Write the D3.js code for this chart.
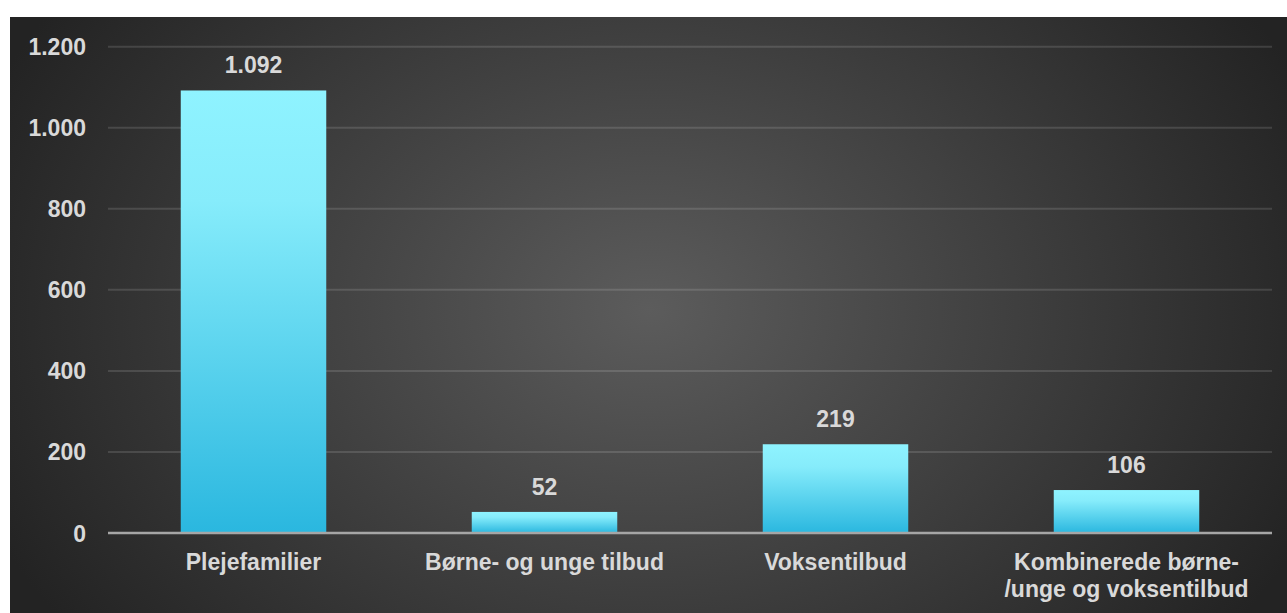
<!DOCTYPE html>
<html><head><meta charset="utf-8">
<script src="https://cdn.jsdelivr.net/npm/d3@7"></script>
<style>html,body{margin:0;padding:0;background:#fff;overflow:hidden}</style>
</head><body>
<svg id="c" width="1287" height="613"></svg>
<script>
const categories = [["Plejefamilier"], ["Børne- og unge tilbud"], ["Voksentilbud"], ["Kombinerede børne-", "/unge og voksentilbud"]];
const values = [1092, 52, 219, 106];
const valueLabels = ["1.092", "52", "219", "106"];
const yTicks = [0, 200, 400, 600, 800, 1000, 1200];
const yTickLabels = ["0", "200", "400", "600", "800", "1.000", "1.200"];

const svg = d3.select("#c");
const W = 1287, H = 613;
const font = "'Liberation Sans', Arial, sans-serif";
const defs = svg.append("defs");
const bg = defs.append("radialGradient").attr("id","bg").attr("gradientUnits","userSpaceOnUse")
  .attr("cx",650).attr("cy",310).attr("r",720)
  .attr("gradientTransform","translate(650,310) scale(1,0.75) translate(-650,-310)");
bg.append("stop").attr("offset","0").attr("stop-color","#5c5c5c");
bg.append("stop").attr("offset","1").attr("stop-color","#232323");
const bar = defs.append("linearGradient").attr("id","bar").attr("x1",0).attr("y1",0).attr("x2",0).attr("y2",1);
bar.append("stop").attr("offset","0").attr("stop-color","#8ff3ff");
bar.append("stop").attr("offset","0.25").attr("stop-color","#86ecfb");
bar.append("stop").attr("offset","1").attr("stop-color","#2ab7df");

svg.append("rect").attr("x",10).attr("y",17).attr("width",W-10).attr("height",H-17).attr("fill","url(#bg)");

const x = d3.scaleBand().domain(d3.range(values.length)).range([108,1272]).paddingInner(0.5).paddingOuter(0.25);
const y = d3.scaleLinear().domain([0,1200]).range([533,46.7]);

// gridlines
svg.append("g").selectAll("line").data(yTicks.filter(d=>d>0)).join("line")
  .attr("x1",108).attr("x2",1272).attr("y1",d=>y(d)).attr("y2",d=>y(d))
  .attr("stroke","rgba(255,255,255,0.13)").attr("stroke-width",2);

// y labels
svg.append("g").selectAll("text").data(yTicks).join("text")
  .attr("x",86).attr("y",d=>y(d)+8.5).attr("text-anchor","end")
  .attr("font-family",font).attr("font-weight","bold").attr("font-size",23).attr("fill","#d9d9d9")
  .text((d,i)=>yTickLabels[i]);

// bars
svg.append("g").selectAll("rect").data(values).join("rect")
  .attr("x",(d,i)=>x(i)).attr("width",x.bandwidth())
  .attr("y",d=>y(d)).attr("height",d=>y(0)-y(d)).attr("fill","url(#bar)");

// axis line
svg.append("line").attr("x1",108).attr("x2",1272).attr("y1",y(0)).attr("y2",y(0))
  .attr("stroke","#a6a6a6").attr("stroke-width",2.5);

// value labels
svg.append("g").selectAll("text").data(values).join("text")
  .attr("x",(d,i)=>x(i)+x.bandwidth()/2).attr("y",d=>y(d)-17).attr("text-anchor","middle")
  .attr("font-family",font).attr("font-weight","bold").attr("font-size",23).attr("fill","#d9d9d9")
  .text((d,i)=>valueLabels[i]);

// category labels
const cg = svg.append("g").selectAll("text").data(categories).join("text")
  .attr("x",(d,i)=>x(i)+x.bandwidth()/2).attr("y",570).attr("text-anchor","middle")
  .attr("font-family",font).attr("font-weight","bold").attr("font-size",23).attr("fill","#d9d9d9");
cg.each(function(lines,i){
  const t = d3.select(this);
  lines.forEach((l,j)=>t.append("tspan").attr("x",x(i)+x.bandwidth()/2).attr("dy", j===0?0:27).text(l));
});
</script>
</body></html>
